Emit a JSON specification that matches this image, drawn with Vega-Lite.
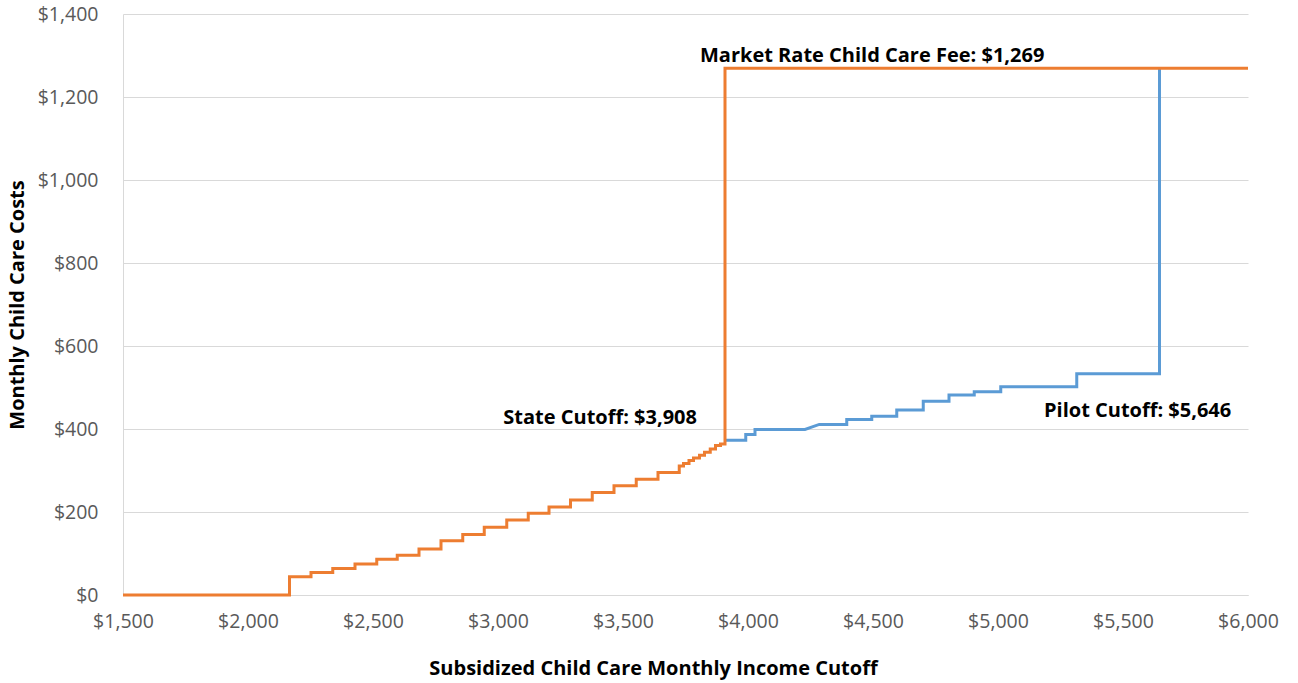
{
  "$schema": "https://vega.github.io/schema/vega-lite/v6.json",
  "autosize": {"type": "none"},
  "width": 1125,
  "height": 581,
  "padding": {"left": 123, "top": 14, "right": 50, "bottom": 88},
  "background": "white",
  "config": {
    "view": {"stroke": null},
    "font": "Open Sans",
    "axis": {"labelFont": "Open Sans", "titleFont": "Open Sans"}
  },
  "datasets": {
    "lines": [
      {"series": "Pilot", "income": 3908, "cost": 373},
      {"series": "Pilot", "income": 3991, "cost": 373},
      {"series": "Pilot", "income": 3991, "cost": 387},
      {"series": "Pilot", "income": 4028, "cost": 387},
      {"series": "Pilot", "income": 4028, "cost": 399},
      {"series": "Pilot", "income": 4228, "cost": 399},
      {"series": "Pilot", "income": 4285, "cost": 411},
      {"series": "Pilot", "income": 4395, "cost": 411},
      {"series": "Pilot", "income": 4395, "cost": 423},
      {"series": "Pilot", "income": 4495, "cost": 423},
      {"series": "Pilot", "income": 4495, "cost": 431},
      {"series": "Pilot", "income": 4595, "cost": 431},
      {"series": "Pilot", "income": 4595, "cost": 446},
      {"series": "Pilot", "income": 4701, "cost": 446},
      {"series": "Pilot", "income": 4701, "cost": 467},
      {"series": "Pilot", "income": 4804, "cost": 467},
      {"series": "Pilot", "income": 4804, "cost": 482},
      {"series": "Pilot", "income": 4905, "cost": 482},
      {"series": "Pilot", "income": 4905, "cost": 490},
      {"series": "Pilot", "income": 5011, "cost": 490},
      {"series": "Pilot", "income": 5011, "cost": 502},
      {"series": "Pilot", "income": 5315, "cost": 502},
      {"series": "Pilot", "income": 5315, "cost": 533},
      {"series": "Pilot", "income": 5646, "cost": 533},
      {"series": "Pilot", "income": 5646, "cost": 1269},
      {"series": "State", "income": 1500, "cost": 0},
      {"series": "State", "income": 2166, "cost": 0},
      {"series": "State", "income": 2166, "cost": 44},
      {"series": "State", "income": 2252, "cost": 44},
      {"series": "State", "income": 2252, "cost": 54},
      {"series": "State", "income": 2339, "cost": 54},
      {"series": "State", "income": 2339, "cost": 64},
      {"series": "State", "income": 2428, "cost": 64},
      {"series": "State", "income": 2428, "cost": 75},
      {"series": "State", "income": 2515, "cost": 75},
      {"series": "State", "income": 2515, "cost": 86},
      {"series": "State", "income": 2597, "cost": 86},
      {"series": "State", "income": 2597, "cost": 96},
      {"series": "State", "income": 2684, "cost": 96},
      {"series": "State", "income": 2684, "cost": 111},
      {"series": "State", "income": 2772, "cost": 111},
      {"series": "State", "income": 2772, "cost": 131},
      {"series": "State", "income": 2859, "cost": 131},
      {"series": "State", "income": 2859, "cost": 146},
      {"series": "State", "income": 2945, "cost": 146},
      {"series": "State", "income": 2945, "cost": 163},
      {"series": "State", "income": 3035, "cost": 163},
      {"series": "State", "income": 3035, "cost": 181},
      {"series": "State", "income": 3121, "cost": 181},
      {"series": "State", "income": 3121, "cost": 197},
      {"series": "State", "income": 3204, "cost": 197},
      {"series": "State", "income": 3204, "cost": 212},
      {"series": "State", "income": 3290, "cost": 212},
      {"series": "State", "income": 3290, "cost": 229},
      {"series": "State", "income": 3377, "cost": 229},
      {"series": "State", "income": 3377, "cost": 247},
      {"series": "State", "income": 3464, "cost": 247},
      {"series": "State", "income": 3464, "cost": 263},
      {"series": "State", "income": 3553, "cost": 263},
      {"series": "State", "income": 3553, "cost": 279},
      {"series": "State", "income": 3640, "cost": 279},
      {"series": "State", "income": 3640, "cost": 295},
      {"series": "State", "income": 3725, "cost": 295},
      {"series": "State", "income": 3725, "cost": 311},
      {"series": "State", "income": 3742, "cost": 311},
      {"series": "State", "income": 3742, "cost": 317},
      {"series": "State", "income": 3764, "cost": 317},
      {"series": "State", "income": 3764, "cost": 324},
      {"series": "State", "income": 3782, "cost": 324},
      {"series": "State", "income": 3782, "cost": 330},
      {"series": "State", "income": 3806, "cost": 330},
      {"series": "State", "income": 3806, "cost": 337},
      {"series": "State", "income": 3826, "cost": 337},
      {"series": "State", "income": 3826, "cost": 344},
      {"series": "State", "income": 3849, "cost": 344},
      {"series": "State", "income": 3849, "cost": 352},
      {"series": "State", "income": 3870, "cost": 352},
      {"series": "State", "income": 3870, "cost": 360},
      {"series": "State", "income": 3890, "cost": 360},
      {"series": "State", "income": 3890, "cost": 364},
      {"series": "State", "income": 3908, "cost": 364},
      {"series": "State", "income": 3908, "cost": 1269},
      {"series": "State", "income": 6000, "cost": 1269}
    ],
    "labels": [
      {"text": "Market Rate Child Care Fee: $1,269", "income": 3808, "cost": 1299, "side": "left"},
      {"text": "State Cutoff: $3,908", "income": 3796, "cost": 427, "side": "right"},
      {"text": "Pilot Cutoff: $5,646", "income": 5184, "cost": 443, "side": "left"}
    ]
  },
  "layer": [
    {
      "data": {"name": "lines"},
      "transform": [{"filter": "datum.series === 'Pilot'"}],
      "mark": {"type": "line", "stroke": "#5B9BD5", "strokeWidth": 3, "strokeJoin": "miter", "clip": false},
      "encoding": {
        "x": {
          "field": "income", "type": "quantitative",
          "scale": {"domain": [1500, 6000], "nice": false, "zero": false},
          "axis": {
            "title": "Subsidized Child Care Monthly Income Cutoff",
            "values": [1500, 2000, 2500, 3000, 3500, 4000, 4500, 5000, 5500, 6000],
            "format": "$,.0f",
            "grid": false,
            "ticks": false,
            "domainColor": "#d9d9d9",
            "domainWidth": 1,
            "labelColor": "#595959",
            "labelFontSize": 19.5,
            "labelPadding": 17,
            "labelFlush": false,
            "labelOverlap": false,
            "titleColor": "#000000",
            "titleFontSize": 20,
            "titleFontWeight": "bold",
            "titlePadding": 28,
            "titleX": 530
          }
        },
        "y": {
          "field": "cost", "type": "quantitative",
          "scale": {"domain": [0, 1400], "nice": false},
          "axis": {
            "title": "Monthly Child Care Costs",
            "values": [0, 200, 400, 600, 800, 1000, 1200, 1400],
            "format": "$,.0f",
            "grid": true,
            "gridColor": "#d9d9d9",
            "gridWidth": 1,
            "ticks": false,
            "domainColor": "#d9d9d9",
            "domainWidth": 1,
            "labelColor": "#595959",
            "labelFontSize": 19.5,
            "labelPadding": 25,
            "labelOverlap": false,
            "titleColor": "#000000",
            "titleFontSize": 20,
            "titleFontWeight": "bold",
            "titlePadding": 10
          }
        },
        "order": {"value": null}
      }
    },
    {
      "data": {"name": "lines"},
      "transform": [{"filter": "datum.series === 'State'"}],
      "mark": {"type": "line", "stroke": "#ED7D31", "strokeWidth": 3, "strokeJoin": "miter", "clip": false},
      "encoding": {
        "x": {"field": "income", "type": "quantitative"},
        "y": {"field": "cost", "type": "quantitative"},
        "order": {"value": null}
      }
    },
    {
      "data": {"name": "labels"},
      "transform": [{"filter": "datum.side === 'left'"}],
      "mark": {"type": "text", "align": "left", "baseline": "middle", "fontSize": 20, "fontWeight": "bold", "color": "#000000"},
      "encoding": {
        "x": {"field": "income", "type": "quantitative"},
        "y": {"field": "cost", "type": "quantitative"},
        "text": {"field": "text"}
      }
    },
    {
      "data": {"name": "labels"},
      "transform": [{"filter": "datum.side === 'right'"}],
      "mark": {"type": "text", "align": "right", "baseline": "middle", "fontSize": 20, "fontWeight": "bold", "color": "#000000"},
      "encoding": {
        "x": {"field": "income", "type": "quantitative"},
        "y": {"field": "cost", "type": "quantitative"},
        "text": {"field": "text"}
      }
    }
  ]
}
